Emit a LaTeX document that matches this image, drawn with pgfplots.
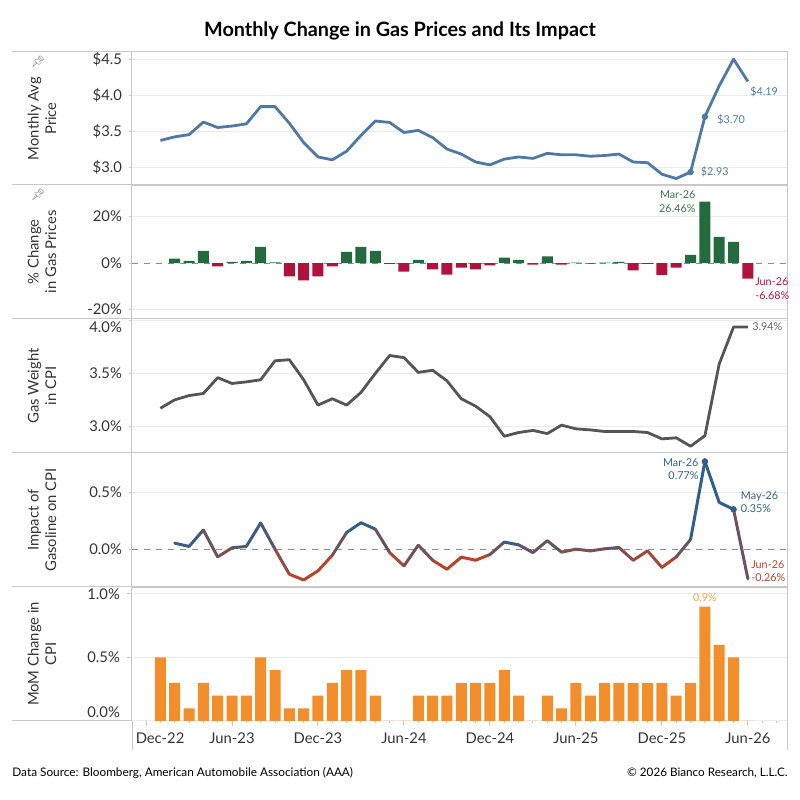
\documentclass[border=0pt]{standalone}
\usepackage{pgfplots}
\pgfplotsset{compat=1.18}
\usepackage{pgfplotstable}
\usepackage{fontspec}
\setmainfont{Lato}
\newfontfamily\emoji{Noto Emoji}
\definecolor{pblue}{HTML}{4E79A7}
\definecolor{gbar}{HTML}{236B3C}
\definecolor{rbar}{HTML}{B0123C}
\definecolor{glab}{HTML}{3D7050}
\definecolor{wgray}{HTML}{555555}
\definecolor{iblue}{HTML}{2F5F8A}
\definecolor{irust}{HTML}{B5452A}
\definecolor{orng}{HTML}{F28E2B}
\definecolor{olab}{HTML}{F5A04A}
\definecolor{gridc}{HTML}{EBEBEB}
\definecolor{bordc}{HTML}{C8C8C8}
\definecolor{txt}{HTML}{333333}
\newcommand{\lab}{\fontsize{5.4}{6.6}\selectfont}

\pgfplotstableread{
m price pct weight impact mom
1 3.37 nan 3.17 nan 0.5
2 3.42 1.9 3.25 0.053 0.3
3 3.45 1.0 3.29 0.024 0.1
4 3.625 5.3 3.31 0.168 0.3
5 3.55 -1.4 3.46 -0.068 0.2
6 3.57 0.6 3.405 0.012 0.2
7 3.60 1.0 3.42 0.024 0.2
8 3.84 7.0 3.44 0.23 0.5
9 3.84 0.3 3.62 0.0 0.4
10 3.61 -5.7 3.63 -0.22 0.1
11 3.34 -7.4 3.44 -0.27 0.1
12 3.14 -5.7 3.20 -0.19 0.2
13 3.10 -1.4 3.26 -0.053 0.3
14 3.22 4.9 3.20 0.147 0.4
15 3.44 7.0 3.32 0.232 0.4
16 3.64 5.3 3.50 0.176 0.2
17 3.62 -0.3 3.67 -0.03 0
18 3.48 -3.6 3.65 -0.147 0
19 3.51 1.4 3.51 0.035 0.2
20 3.41 -2.7 3.53 -0.097 0.2
21 3.25 -4.9 3.43 -0.176 0.2
22 3.18 -1.9 3.26 -0.07 0.3
23 3.07 -2.7 3.19 -0.097 0.3
24 3.03 -0.9 3.09 -0.047 0.3
25 3.11 2.4 2.905 0.062 0.4
26 3.14 1.4 2.94 0.038 0.2
27 3.12 -0.6 2.96 -0.03 0
28 3.19 2.9 2.93 0.074 0.2
29 3.17 -0.6 3.01 -0.026 0.1
30 3.17 0.2 2.975 0.0 0.3
31 3.15 -0.2 2.965 -0.015 0.2
32 3.16 0.2 2.95 0.003 0.3
33 3.18 0.6 2.95 0.015 0.3
34 3.07 -3.1 2.95 -0.097 0.3
35 3.06 -0.3 2.94 -0.015 0.3
36 2.90 -5.0 2.88 -0.16 0.3
37 2.84 -1.9 2.89 -0.068 0.2
38 2.93 3.6 2.81 0.085 0.3
39 3.70 26.46 2.91 0.77 0.9
40 4.13 11.3 3.59 0.41 0.6
41 4.50 9.1 3.94 0.35 0.5
42 4.19 -6.68 3.94 -0.26 0
}\data

\pgfplotsset{panel/.style={
  scale only axis, width=327.5pt, anchor=north west,
  xmin=-0.98, xmax=44.73,
  axis line style={draw=bordc, line width=0.5pt},
  ymajorgrids, grid style={draw=gridc, line width=0.5pt},
  xtick=\empty,
  tick pos=left, tick align=outside,
  major tick length=1.5pt, minor tick length=1pt,
  tick style={draw=bordc, line width=0.5pt},
  yticklabel style={font=\fontsize{7.4}{8}\selectfont, text=txt},
  xticklabel style={font=\fontsize{7.4}{8}\selectfont, text=txt},
  /pgf/number format/assume math mode=true,
  clip mode=individual,
}}

\begin{document}
\begin{tikzpicture}
\useasboundingbox (0,0) rectangle (400pt,400pt);

% title
\node[font=\bfseries\fontsize{9.9}{11}\selectfont, text=black] at (200pt,384.5pt) {Monthly Change in Gas Prices and Its Impact};

% Panel 1: price
\begin{axis}[panel, at={(66pt,374pt)}, height=66.5pt,
  ymin=2.75, ymax=4.6,
  ytick={3,3.5,4,4.5}, yticklabels={\$3.0,\$3.5,\$4.0,\$4.5}]
\addplot[pblue, line width=1.4pt, line join=round] table[x=m,y=price]{\data};
\addplot[pblue, only marks, mark=*, mark size=1.4pt] coordinates {(38,2.93) (39,3.70)};
\node[anchor=north west, text=pblue, font=\lab, inner sep=1pt, yshift=-1.5pt] at (axis cs:42,4.19) {\$4.19};
\node[anchor=west, text=pblue, font=\lab, inner sep=1pt, xshift=5pt, yshift=-1.5pt] at (axis cs:39,3.70) {\$3.70};
\node[anchor=west, text=pblue, font=\lab, inner sep=1pt, xshift=4pt] at (axis cs:38,2.93) {\$2.93};
\end{axis}

% Panel 2: % change
\begin{axis}[panel, at={(66pt,307.5pt)}, height=67pt,
  ymin=-24, ymax=33.6,
  ytick={-20,20}, yticklabels={-20\%,20\%},
  extra y ticks={0}, extra y tick labels={0\%},
  extra y tick style={grid style={dashed, draw=black!45, line width=0.5pt}},
  restrict y to domain=-100:100]
\addplot[ybar, bar width=5.5pt, bar shift=0pt, fill=gbar, draw=none, restrict y to domain=0:100] table[x=m,y=pct]{\data};
\addplot[ybar, bar width=5.5pt, bar shift=0pt, fill=rbar, draw=none, restrict y to domain=-100:0] table[x=m,y=pct]{\data};
\node[anchor=east, align=right, text=glab, font=\lab, inner sep=1pt, xshift=-3.5pt] at (axis cs:39,26.46) {Mar-26\\26.46\%};
\node[anchor=north west, align=left, text=rbar, font=\lab, inner sep=1pt, xshift=2.5pt, yshift=1.5pt] at (axis cs:42,-6.68) {Jun-26\\-6.68\%};
\end{axis}

% Panel 3: gas weight
\begin{axis}[panel, at={(66pt,240.5pt)}, height=67pt,
  ymin=2.746, ymax=4.016,
  ytick={3,3.5}, yticklabels={3.0\%,3.5\%},
  extra y ticks={4}, extra y tick labels={4.0\%},
  extra y tick style={yticklabel style={yshift=-3.5pt}}]
\addplot[wgray, line width=1.4pt, line join=round] table[x=m,y=weight]{\data};
\node[anchor=west, text=black!60, font=\lab, inner sep=1pt, xshift=1pt] at (axis cs:42,3.94) {3.94\%};
\end{axis}

% Panel 4: impact
\begin{axis}[panel, at={(66pt,173.5pt)}, height=67pt,
  ymin=-0.332, ymax=0.844,
  ytick={0.5}, yticklabels={0.5\%},
  extra y ticks={0}, extra y tick labels={0.0\%},
  extra y tick style={grid style={dashed, draw=black!45, line width=0.5pt}},
  colormap={imp}{rgb255(0cm)=(181,69,42); rgb255(1cm)=(110,82,96); rgb255(2cm)=(47,95,138)},
  point meta min=-0.04, point meta max=0.04]
\addplot[mesh, line width=1.5pt, line cap=round, line join=round, point meta=\thisrow{impact}] table[x=m,y=impact]{\data};
\addplot[iblue, only marks, mark=*, mark size=1.4pt] coordinates {(39,0.77) (41,0.35)};
\node[anchor=north east, align=right, text=iblue, font=\lab, inner sep=1pt, xshift=-2pt, yshift=2.5pt] at (axis cs:39,0.77) {Mar-26\\0.77\%};
\node[anchor=west, align=left, text=iblue, font=\lab, inner sep=1pt, xshift=2.5pt, yshift=3.5pt] at (axis cs:41,0.35) {May-26\\0.35\%};
\node[anchor=west, align=left, text=irust, font=\lab, inner sep=1pt, xshift=0.5pt, yshift=4pt] at (axis cs:42,-0.26) {Jun-26\\-0.26\%};
\end{axis}

% Panel 5: MoM CPI
\begin{axis}[panel, at={(66pt,106.5pt)}, height=67pt,
  ymin=0, ymax=1.055,
  ytick={0.5,1}, yticklabels={0.5\%,1.0\%},
  extra y ticks={0}, extra y tick labels={0.0\%},
  extra y tick style={yticklabel style={yshift=4.5pt}},
  xtick={6,12,...,42},
  xticklabels={Jun-23,Dec-23,Jun-24,Dec-24,Jun-25,Dec-25,Jun-26},
  extra x ticks={0}, extra x tick labels={Dec-22},
  extra x tick style={xticklabel style={xshift=7pt}},
  minor xtick={-0,1,...,44},
  major tick length=2.5pt]
\addplot[ybar, bar width=5.5pt, bar shift=0pt, fill=orng, draw=none] table[x=m,y=mom]{\data};
\node[anchor=south, text=olab, font=\lab, inner sep=1pt, yshift=1.5pt] at (axis cs:39,0.9) {0.9\%};
\end{axis}

% row header dividers and extensions
\foreach \yy in {374,307.5,240.5,173.5,106.5,39.5}{
  \draw[bordc, line width=0.5pt] (6pt,\yy pt) -- (66pt,\yy pt);
}
\draw[bordc, line width=0.5pt] (66pt,39.5pt) -- (66pt,25pt);
\draw[bordc, line width=0.5pt] (393.5pt,39.5pt) -- (393.5pt,25pt);

% row header titles
\begin{scope}[every node/.style={rotate=90, align=center, text=txt, font=\fontsize{7.4}{8.8}\selectfont}]
\node at (21pt,340.75pt) {Monthly Avg\\Price};
\node at (21pt,274pt) {\% Change\\in Gas Prices};
\node at (21pt,207pt) {Gas Weight\\in CPI};
\node at (21pt,140pt) {Impact of\\Gasoline on CPI};
\node at (21pt,73pt) {MoM Change in\\CPI};
\end{scope}
\node[text=black!55, font=\emoji\fontsize{5.5}{6}\selectfont] at (19pt,369pt) {📌};
\node[text=black!55, font=\emoji\fontsize{5.5}{6}\selectfont] at (19pt,302.5pt) {📌};

% footer
\node[anchor=west, inner sep=0pt, text=black, font=\fontsize{5.9}{7}\selectfont] at (6pt,13.5pt) {Data Source: Bloomberg, American Automobile Association (AAA)};
\node[anchor=east, inner sep=0pt, text=black, font=\fontsize{5.85}{7}\selectfont] at (394pt,13.5pt) {© 2026 Bianco Research, L.L.C.};
\end{tikzpicture}
\end{document}
